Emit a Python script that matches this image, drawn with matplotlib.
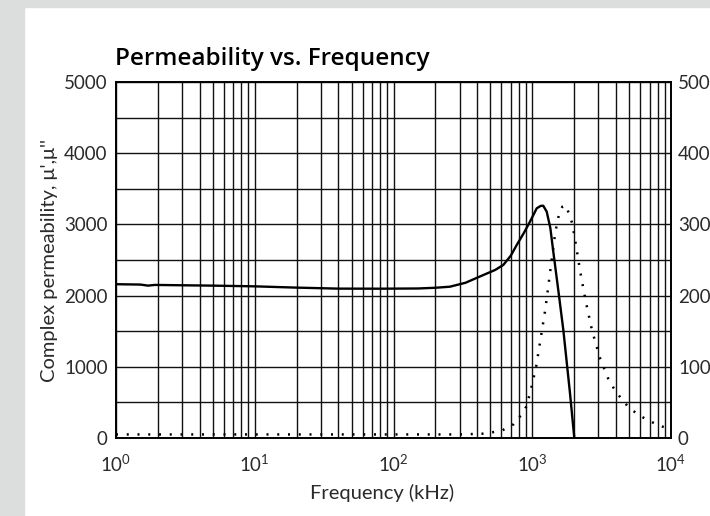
import matplotlib.pyplot as plt
import matplotlib.ticker as mticker
from matplotlib.patches import Rectangle

# mu' (left axis), frequency in kHz
f_real = [1, 1.5, 1.7, 1.9, 3, 5, 10, 20, 40, 80, 150, 200, 255, 330, 444, 540,
          618, 700, 773, 870, 963, 1077, 1150, 1200, 1271, 1350, 1418, 1550,
          1675, 1871, 2010]
mu_real = [2160, 2155, 2140, 2150, 2145, 2140, 2130, 2112, 2098, 2097, 2100,
           2110, 2125, 2180, 2289, 2360, 2430, 2560, 2711, 2880, 3038, 3226,
           3260, 3262, 3179, 2950, 2617, 2036, 1517, 628, 0]

# mu'' (right axis)
f_imag = [1, 2, 5, 10, 20, 50, 100, 200, 300, 436, 515, 612, 730, 829, 912,
          991, 1064, 1150, 1243, 1349, 1466, 1566, 1650, 1742, 1849, 1944,
          2057, 2220, 2429, 2697, 3093, 3516, 3864, 4313, 4955, 5876, 6977,
          8373, 10000]
mu_imag = [5, 5, 5, 5, 5, 5, 5, 5, 5, 6, 8, 11, 19, 32, 45, 73, 99, 140, 181,
           235, 289, 316, 325, 327, 314, 301, 273, 233, 192, 151, 111, 84, 70,
           57, 43, 32, 24, 17, 12]

left_ticks = [0, 1000, 2000, 3000, 4000, 5000]
right_ticks = [0, 100, 200, 300, 400, 500]

plt.rcParams['font.family'] = ['Lato', 'DejaVu Sans']

fig = plt.figure(figsize=(7.1, 5.16), dpi=100)
fig.patches.append(Rectangle((0, 0), 24/710, 1, transform=fig.transFigure,
                             color='#dcdedd', zorder=-10))
fig.patches.append(Rectangle((0, 1 - 7/516), 1, 7/516, transform=fig.transFigure,
                             color='#dcdedd', zorder=-10))

ax = fig.add_axes([116/710, 78/516, 555/710, 356/516])
ax.set_xscale('log')
ax.set_xlim(1, 10000)
ax.set_ylim(0, 5000)
ax.set_yticks(left_ticks)
ax.yaxis.set_minor_locator(mticker.MultipleLocator(500))
ax.xaxis.set_major_locator(mticker.LogLocator(base=10, numticks=10))
ax.xaxis.set_minor_locator(mticker.LogLocator(base=10, subs=range(2, 10), numticks=20))
ax.xaxis.set_minor_formatter(mticker.NullFormatter())
ax.grid(which='both', color='#111111', linewidth=1.0)
ax.tick_params(which='both', length=0, labelsize=13.5, colors='#2a2a2a')
ax.tick_params(axis='y', pad=6)
ax.tick_params(axis='x', pad=11)
for s in ax.spines.values():
    s.set_linewidth(1.4)

ax.plot(f_real, mu_real, color='black', linewidth=1.7, zorder=5)

ax2 = ax.twinx()
ax2.set_ylim(0, 500)
ax2.set_yticks(right_ticks)
ax2.tick_params(length=0, labelsize=13.5, pad=5, colors='#2a2a2a')
for s in ax2.spines.values():
    s.set_visible(False)
ax2.plot(f_imag, mu_imag, color='black', linewidth=1.8,
         linestyle=(0, (0.8, 3.5)))

ax.set_xlabel('Frequency (kHz)', fontsize=14.5, color='#2a2a2a')
ax.xaxis.set_label_coords(0.48, -0.13)
ax.set_ylabel("Complex permeability, μ',μ''", fontsize=14.5, color='#2a2a2a')
ax.yaxis.set_label_coords(-0.105, 0.5)
fig.text(115/710, 1 - 65/516, 'Permeability vs. Frequency', fontsize=17.5,
         family=['Open Sans', 'DejaVu Sans'], fontweight='semibold',
         ha='left', va='baseline')

fig.savefig('out.png', dpi=100)
